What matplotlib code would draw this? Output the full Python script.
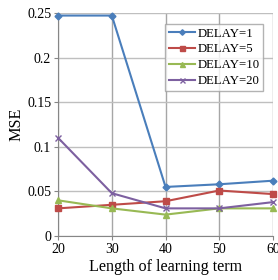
import matplotlib
matplotlib.use("Agg")
from matplotlib import pyplot as plt

# data
term_length = [20, 30, 40, 50, 60]
delay_1 = [0.247, 0.247, 0.055, 0.058, 0.062]
delay_5 = [0.031, 0.035, 0.039, 0.051, 0.047]
delay_10 = [0.040, 0.031, 0.024, 0.031, 0.031]
delay_20 = [0.110, 0.048, 0.031, 0.031, 0.038]
y_ticks = [0, 0.05, 0.1, 0.15, 0.2, 0.25]
y_labels = ["0", "0.05", "0.1", "0.15", "0.2", "0.25"]

plt.rcParams['font.family'] = ['Liberation Serif', 'DejaVu Serif']

fig = plt.figure(figsize=(2.78, 2.8), dpi=100)
ax = fig.add_axes([0.209, 0.157, 0.773, 0.797])

series = [
    (delay_1, 'DELAY=1', '#4A7EBB', 'D', 3.5),
    (delay_5, 'DELAY=5', '#BE4B48', 's', 4.5),
    (delay_10, 'DELAY=10', '#98B954', '^', 4.5),
    (delay_20, 'DELAY=20', '#7D60A0', 'x', 4.5),
]
for vals, name, col, mk, ms in series:
    ax.plot(term_length, vals, color=col, marker=mk, markersize=ms,
            linewidth=1.5, label=name, clip_on=False, zorder=3)

ax.set_xlim(20, 60)
ax.set_ylim(0, 0.25)
ax.set_xticks(term_length)
ax.set_yticks(y_ticks)
ax.set_yticklabels(y_labels)
ax.grid(True, axis='y', color='#BFBFBF', linewidth=1)
ax.grid(True, axis='x', color='#A6A6A6', linewidth=1)
ax.set_axisbelow(True)
for side in ['top', 'right']:
    ax.spines[side].set_visible(False)
for side in ['left', 'bottom']:
    ax.spines[side].set_color('#868686')
ax.tick_params(labelsize=10, length=3, color='#868686', pad=2)

ax.set_xlabel('Length of learning term', fontsize=11.6, labelpad=2)
ax.set_ylabel('MSE', fontsize=11.6, labelpad=2)

leg = ax.legend(loc='upper right', bbox_to_anchor=(0.985, 0.98), fontsize=9.2,
                frameon=True, fancybox=False, handlelength=2.0,
                borderpad=0.3, labelspacing=0.3, handletextpad=0.2,
                markerscale=0.8)
leg.get_frame().set_edgecolor('#A0A0A0')
leg.get_frame().set_linewidth(1)

fig.savefig('out.png', dpi=100)
